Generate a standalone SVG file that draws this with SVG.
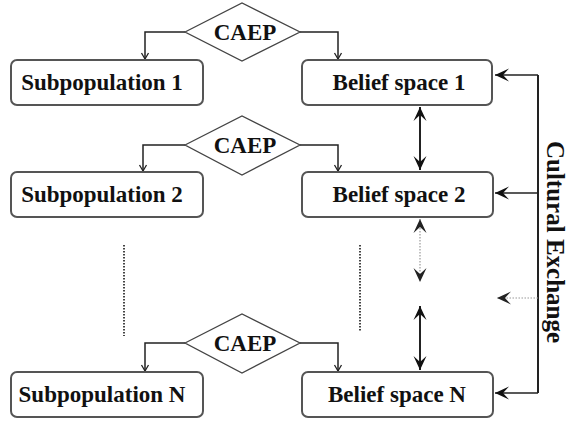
<svg xmlns="http://www.w3.org/2000/svg" width="572" height="423" viewBox="0 0 572 423">
<defs>
<style>
.box{fill:#fff;stroke:#555;stroke-width:2}
.dia{fill:#fff;stroke:#444;stroke-width:1.3}
.t{font-family:"Liberation Serif","Times New Roman",serif;font-weight:bold;font-size:23px;fill:#111;text-anchor:middle}
.ln{fill:none;stroke:#222;stroke-width:1.5}
.thick{fill:none;stroke:#222;stroke-width:2}
.dot{fill:none;stroke:#444;stroke-width:2;stroke-dasharray:1.5 1.5}
.dotl{fill:none;stroke:#999;stroke-width:1.2;stroke-dasharray:1.5 1.5}
</style>
<marker id="sm" markerUnits="userSpaceOnUse" markerWidth="10" markerHeight="10" refX="0" refY="0" viewBox="-8 -5 10 10" orient="auto">
<path d="M-6,-3.5 L0,0 L-6,3.5" fill="none" stroke="#222" stroke-width="1.3"/>
</marker>
<marker id="big" markerUnits="userSpaceOnUse" markerWidth="18" markerHeight="16" refX="0" refY="0" viewBox="-16 -8 18 16" orient="auto-start-reverse">
<path d="M0,0 L-14,-6.5 L-8,0 L-14,6.5 Z" fill="#111"/>
</marker>
<marker id="bigl" markerUnits="userSpaceOnUse" markerWidth="18" markerHeight="16" refX="0" refY="0" viewBox="-16 -8 18 16" orient="auto-start-reverse">
<path d="M0,0 L-14,-6.5 L-8,0 L-14,6.5 Z" fill="#222"/>
</marker>
</defs>
<rect width="572" height="423" fill="#fff"/>

<g id="connectors">
<path class="ln" d="M185,32 H145 V59" marker-end="url(#sm)"/>
<path class="ln" d="M300,32 H338 V59" marker-end="url(#sm)"/>
<path class="ln" d="M185,145 H143 V171" marker-end="url(#sm)"/>
<path class="ln" d="M300,145 H338 V171" marker-end="url(#sm)"/>
<path class="ln" d="M185,343 H145 V371" marker-end="url(#sm)"/>
<path class="ln" d="M300,343 H338 V371" marker-end="url(#sm)"/>
<path class="thick" d="M420,107 V170" marker-start="url(#big)" marker-end="url(#big)"/>
<path class="dotl" d="M420,219 V282" marker-start="url(#bigl)" marker-end="url(#bigl)"/>
<path class="thick" d="M420,306 V370" marker-start="url(#big)" marker-end="url(#big)"/>
<path class="thick" d="M538,75 V393"/>
<path class="ln" d="M538,75 H495" marker-end="url(#big)"/>
<path class="ln" d="M538,193 H495" marker-end="url(#big)"/>
<path class="ln" d="M538,393 H495" marker-end="url(#big)"/>
<path class="dotl" d="M538,298 H497" marker-end="url(#bigl)"/>
<path class="dot" d="M124,245 V336"/>
<path class="dot" d="M360,245 V332"/>
</g>

<g id="caep1"><polygon class="dia" points="185,32 242,3 300,32 242,61"/><text class="t" x="245" y="40">CAEP</text></g>
<g id="caep2"><polygon class="dia" points="185,145 242,116 300,145 242,175"/><text class="t" x="245" y="153">CAEP</text></g>
<g id="caepN"><polygon class="dia" points="185,343 242,314 300,343 242,373"/><text class="t" x="245" y="351">CAEP</text></g>

<g id="sub1"><rect class="box" x="11" y="60" width="192" height="45" rx="6"/><text class="t" x="102" y="90">Subpopulation 1</text></g>
<g id="sub2"><rect class="box" x="11" y="172" width="192" height="45" rx="6"/><text class="t" x="102" y="202">Subpopulation 2</text></g>
<g id="subN"><rect class="box" x="11" y="372" width="192" height="45" rx="6"/><text class="t" x="102" y="402">Subpopulation N</text></g>

<g id="bel1"><rect class="box" x="302" y="60" width="190" height="45" rx="6"/><text class="t" x="399" y="90">Belief space 1</text></g>
<g id="bel2"><rect class="box" x="302" y="172" width="191" height="45" rx="6"/><text class="t" x="399" y="202">Belief space 2</text></g>
<g id="belN"><rect class="box" x="302" y="372" width="191" height="45" rx="6"/><text class="t" x="397" y="402">Belief space N</text></g>

<g id="label"><text class="t" style="font-size:25px" transform="translate(547,242) rotate(90)" x="0" y="0">Cultural Exchange</text></g>
</svg>
